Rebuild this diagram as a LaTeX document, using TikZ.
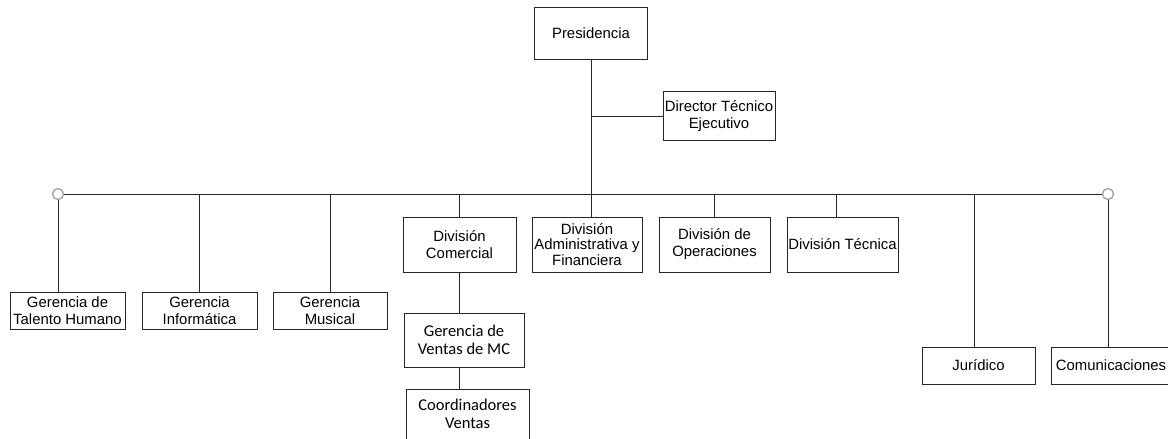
\documentclass[tikz,border=0pt]{standalone}
\usepackage{fontspec}
\setmainfont{Liberation Sans}
\newfontfamily\calibri{Carlito}
\usetikzlibrary{positioning}

\begin{document}
\begin{tikzpicture}[
  x=1pt, y=-1pt,
  font=\fontsize{14.9}{17}\selectfont,
  link/.style={draw=black!85, line width=0.8pt},
  unit/.style 2 args={
    draw=black!85, line width=0.8pt, fill=white, align=center,
    inner sep=0pt, minimum width=#1, minimum height=#2
  },
  knob/.style={circle, draw=gray!75, line width=1.3pt, fill=white,
    inner sep=0pt, minimum size=11pt}
]
  \useasboundingbox (0,0) rectangle (1168,439);

  % top level
  \node[unit={113pt}{52pt}] (pres) at (591,33) {Presidencia};
  \node[unit={112pt}{49pt}] (dir) at (719,116) {Director T\'ecnico\\Ejecutivo};

  % bus
  \coordinate (bus) at (591,194);
  \node[knob] (lknob) at (58,194) {};
  \node[knob] (rknob) at (1108,194) {};
  \draw[link] (lknob) -- (rknob);
  \draw[link] (pres.south) -- (bus);
  \draw[link] (pres.south |- dir.west) -- (dir.west);

  % gerencias
  \node[unit={115pt}{37pt}] (talento) at (67.5,310.5) {Gerencia de\\Talento Humano};
  \node[unit={115pt}{37pt}] (info) at (199.5,310.5) {Gerencia\\Inform\'atica};
  \node[unit={114pt}{37pt}] (musical) at (330,310.5) {Gerencia\\Musical};
  \draw[link] (lknob) -- (lknob |- talento.north);
  \draw[link] (info.north |- bus) -- (info.north);
  \draw[link] (musical.north |- bus) -- (musical.north);

  % divisiones
  \node[unit={113pt}{55pt}] (comercial) at (459.5,244.5) {Divisi\'on\\Comercial};
  \node[unit={110pt}{55pt}, font=\fontsize{14.9}{15.5}\selectfont]
    (admin) at (587,244.5) {Divisi\'on\\Administrativa y\\Financiera};
  \node[unit={111pt}{55pt}] (oper) at (714.5,244.5) {Divisi\'on de\\Operaciones};
  \node[unit={111pt}{55pt}] (tecnica) at (842.5,244.5) {Divisi\'on T\'ecnica};
  \draw[link] (comercial.north |- bus) -- (comercial.north);
  \draw[link] (bus) -- (bus |- admin.north);
  \draw[link] (oper.north |- bus) -- (oper.north);
  \draw[link] ([xshift=-6pt]tecnica.north |- bus) -- ([xshift=-6pt]tecnica.north);

  % ventas
  \node[unit={120pt}{54pt}, font=\calibri\fontsize{16.5}{18.5}\selectfont]
    (ventas) at (464,340) {Gerencia de\\Ventas de MC};
  \node[unit={123pt}{62pt}, font=\calibri\fontsize{16.5}{18.5}\selectfont,
    text depth=12pt] (coord) at (467.5,420) {Coordinadores\\Ventas};
  \draw[link] (comercial.south) -- (comercial.south |- ventas.north);
  \draw[link] (comercial.south |- ventas.south) -- (comercial.south |- coord.north);

  % staff
  \node[unit={113pt}{37pt}] (juridico) at (978.5,365.5) {Jur\'idico};
  \node[unit={120pt}{37pt}] (comunic) at (1111,365.5) {Comunicaciones};
  \draw[link] ([xshift=-4.5pt]juridico.north |- bus) -- ([xshift=-4.5pt]juridico.north);
  \draw[link] (rknob) -- (rknob |- comunic.north);
\end{tikzpicture}
\end{document}
